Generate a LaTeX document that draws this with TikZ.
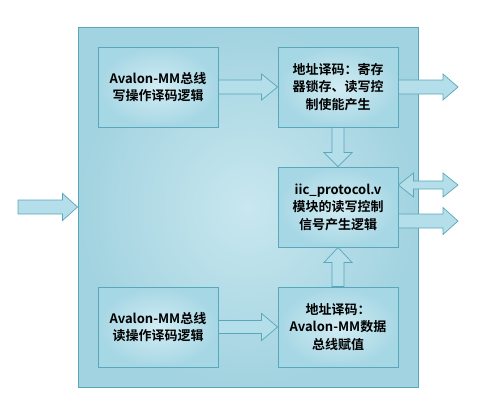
\documentclass[tikz,border=0pt]{standalone}
\usepackage{fontspec}
\setmainfont{Noto Sans CJK SC}[BoldFont={* Bold}]
\usetikzlibrary{calc}
\definecolor{edgeblue}{HTML}{5AA6BA}
\definecolor{outerfill}{HTML}{A2D3E0}
\definecolor{centerfill}{HTML}{C8E7EF}
\definecolor{boxout}{HTML}{A6D7E4}
\definecolor{boxin}{HTML}{D2ECF3}
\definecolor{arrfill}{HTML}{B4DEE9}
\tikzset{
  outerbox/.style={draw=edgeblue, line width=0.9pt, shading=radial, inner color=centerfill, outer color=outerfill, minimum width=340pt, minimum height=360pt, inner sep=0pt},
  blockbox/.style={draw=edgeblue, line width=0.9pt, shading=radial, inner color=boxin, outer color=boxout, minimum width=120pt, minimum height=80pt, inner sep=0pt, align=center, font=\fontsize{13}{17.5}\selectfont\bfseries},
  blockarrow/.style={draw=edgeblue, line width=0.7pt, fill=arrfill, line join=miter}
}
\newcommand\barrow[5]{%
  \coordinate (Hh) at ($(#2)!#5!(#1)$);
  \path[blockarrow] ($(#1)!#3!90:(#2)$) -- ($(Hh)!#3!90:(#2)$) -- ($(Hh)!#4!90:(#2)$) -- (#2)
    -- ($(Hh)!#4!-90:(#2)$) -- ($(Hh)!#3!-90:(#2)$) -- ($(#1)!#3!-90:(#2)$) -- cycle;}
\begin{document}
\begin{tikzpicture}[x=1pt,y=-1pt]
\useasboundingbox (0,0) rectangle (497,410);
\node[outerbox] (outer) at (248,207) {};
\node[blockbox] (b1) at (158,87) {Avalon-MM总线\\写操作译码逻辑};
\node[blockbox] (b2) at (338,87) {地址译码：寄存\\器锁存、读写控\\制使能产生};
\node[blockbox] (b3) at (338,207) {iic\_protocol.v\\模块的读写控制\\信号产生逻辑};
\node[blockbox] (b4) at (158,327) {Avalon-MM总线\\读操作译码逻辑};
\node[blockbox] (b5) at (338,327) {地址译码：\\Avalon-MM数据\\总线赋值};
% external points
\coordinate (in) at (18,207);
\coordinate (o1) at (458,87);
\coordinate (d1) at ($(b3.east)+(0,-22)$);
\coordinate (d2) at (458,185);
\coordinate (o3s) at ($(b3.east)+(0,14)$);
\coordinate (o3) at (458,221);
% arrows
\barrow{in}{outer.west}{7pt}{13.5pt}{15pt}
\barrow{b1.east}{b2.west}{7pt}{13pt}{16pt}
\barrow{b2.east}{o1}{7pt}{13pt}{15pt}
\barrow{b2.south}{b3.north}{6pt}{14pt}{14pt}
\barrow{b4.east}{b5.west}{6.5pt}{13.5pt}{16pt}
\barrow{b5.north}{b3.south}{6pt}{14pt}{15pt}
\barrow{o3s}{o3}{7pt}{13.5pt}{15pt}
% double arrow
\coordinate (Ha) at ($(d1)!15pt!(d2)$);
\coordinate (Hb) at ($(d2)!15pt!(d1)$);
\path[blockarrow] (d1) -- ($(Ha)!12pt!90:(d2)$) -- ($(Ha)!4pt!90:(d2)$) -- ($(Hb)!4pt!90:(d2)$) -- ($(Hb)!12pt!90:(d2)$) -- (d2)
  -- ($(Hb)!12pt!-90:(d2)$) -- ($(Hb)!4pt!-90:(d2)$) -- ($(Ha)!4pt!-90:(d2)$) -- ($(Ha)!12pt!-90:(d2)$) -- cycle;
\end{tikzpicture}
\end{document}
